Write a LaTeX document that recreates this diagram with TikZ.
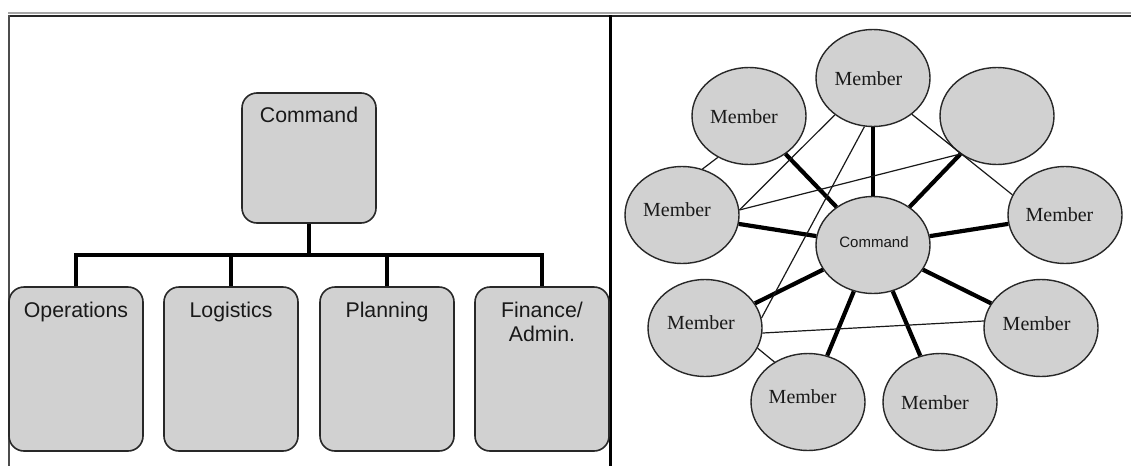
\documentclass[tikz,border=0pt]{standalone}
\usepackage{fontspec}
\setmainfont{Liberation Serif}
\newfontfamily\arialf{Liberation Sans}
\usetikzlibrary{shapes.geometric}
\definecolor{boxfill}{RGB}{209,209,209}
\definecolor{edgec}{RGB}{40,40,40}
\begin{document}
\begin{tikzpicture}[x=1pt,y=-1pt,
  orgbox/.style={draw=edgec, line width=1.6pt, fill=boxfill, rounded corners=15pt, minimum width=134pt, inner sep=0pt},
  orglabel/.style={font=\arialf\fontsize{21.3}{23.5}\selectfont, anchor=north, inner sep=0pt, align=center, text=black!90},
  tree/.style={line width=4.5pt, black},
  member/.style={ellipse, draw=edgec, line width=1.4pt, fill=boxfill, minimum width=114pt, minimum height=97pt, inner sep=0pt},
  memlabel/.style={font=\fontsize{20}{24}\selectfont, inner sep=0pt, text=black!90},
  cmdlabel/.style={font=\arialf\fontsize{15}{18}\selectfont, inner sep=0pt, text=black!90},
  spoke/.style={line width=4.2pt, black},
  link/.style={line width=1.2pt, black!90},
]
\useasboundingbox (0,0) rectangle (1131,466);
\fill[white] (0,0) rectangle (1131,466);

% frame
\draw[gray!70, line width=1.5pt] (8,12.8) -- (1131,12.8);
\draw[black!85, line width=1.5pt] (8,15.8) -- (1131,15.8);
\draw[black!70, line width=1.5pt] (9,15) -- (9,466);
\draw[black, line width=3pt] (610,15) -- (610,466);

% ---------- left: hierarchy ----------
\node[orgbox, minimum height=130pt] (cmd) at (309,158) {};
\node[orgbox, minimum height=164pt] (ops) at (76,369) {};
\node[orgbox, minimum height=164pt] (log) at (231,369) {};
\node[orgbox, minimum height=164pt] (plan) at (387,369) {};
\node[orgbox, minimum height=164pt] (fin) at (542,369) {};

\node[orglabel] (cmdT) at (309,107) {Command};
\node[orglabel] (opsT) at (76,302) {Operations};
\node[orglabel] (logT) at (231,302) {Logistics};
\node[orglabel] (planT) at (387,302) {Planning};
\node[orglabel] (finT) at (542,302) {Finance/\\Admin.};

\coordinate (bus) at (309,255);
\draw[tree] (cmd.south) -- (cmd.south |- bus);
\draw[tree] (ops.north) -- (ops.north |- bus) -- (fin.north |- bus) -- (fin.north);
\draw[tree] (log.north) -- (log.north |- bus);
\draw[tree] (plan.north) -- (plan.north |- bus);

% ---------- right: network ----------
\node[member] (cc) at (873,245) {};
\node[member] (topm) at (873,78) {};
\node[member] (tl) at (749,116) {};
\node[member] (tr) at (997,116) {};
\node[member] (lm) at (682,215) {};
\node[member] (rm) at (1065,215) {};
\node[member] (ll) at (705,328) {};
\node[member] (lr) at (1041,328) {};
\node[member] (bl) at (808,402) {};
\node[member] (br) at (940,402) {};

\node[cmdlabel] (ccT) at (874,241.7) {Command};
\node[memlabel] (topmT) at (868.5,78.5) {Member};
\node[memlabel] (tlT) at (744,116.7) {Member};
\node[memlabel] (lmT) at (677,210) {Member};
\node[memlabel] (rmT) at (1059.5,215) {Member};
\node[memlabel] (llT) at (701,322.7) {Member};
\node[memlabel] (lrT) at (1036.6,323.3) {Member};
\node[memlabel] (blT) at (802.6,396.7) {Member};
\node[memlabel] (brT) at (935,402.7) {Member};

% spokes
\foreach \m in {topm,tl,tr,lm,rm,ll,lr,bl,br}
  \draw[spoke] (cc) -- (\m);

% thin links
\draw[link] (topm.224) -- (lm.5);
\draw[link] (topm.260) -- (ll.10);
\draw[link] (topm.317) -- (rm.159);
\draw[link] (tr.226) -- (lm.5);
\draw[link] (tl.233) -- (lm.66);
\draw[link] (ll.-5) -- (lr.173);
\draw[link] (ll.-21) -- (bl.130);
\end{tikzpicture}
\end{document}
